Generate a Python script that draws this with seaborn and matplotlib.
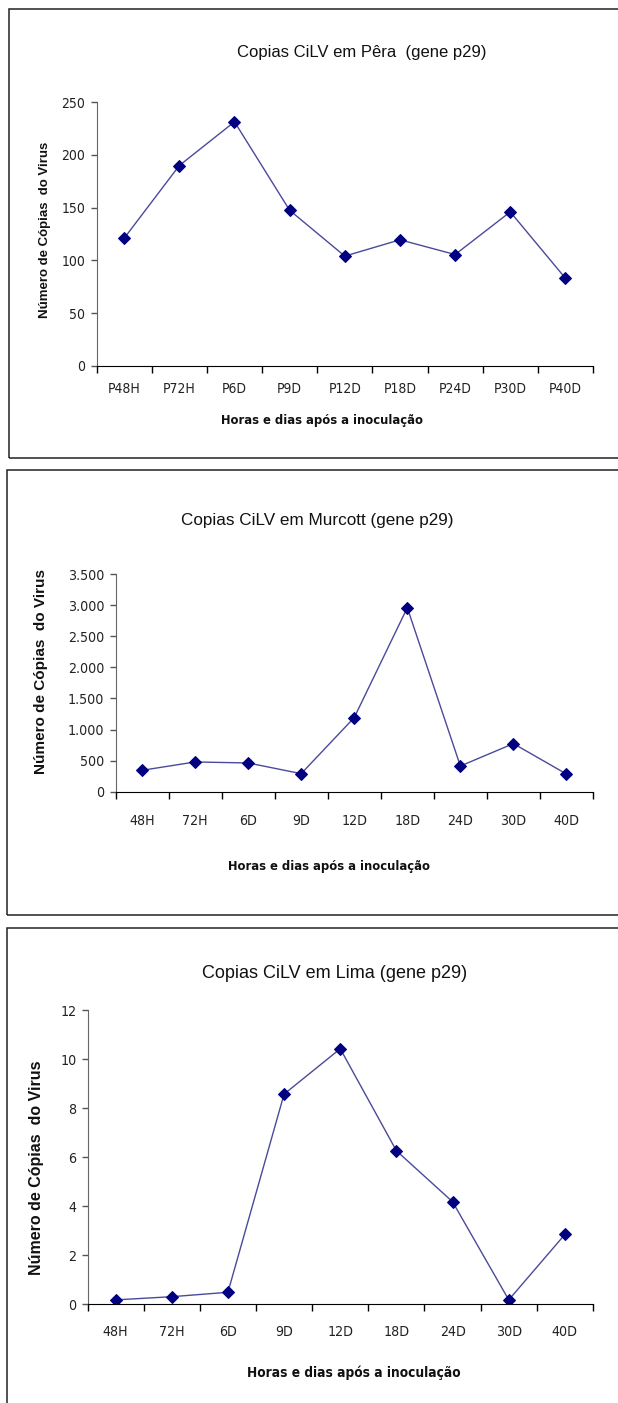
import matplotlib
matplotlib.use("Agg")
import matplotlib.pyplot as plt
from matplotlib import font_manager
from matplotlib.patches import Rectangle
from matplotlib.ticker import FuncFormatter, MultipleLocator, FixedLocator
import seaborn as sns
import pandas as pd

# data
pera_labels = ["P48H", "P72H", "P6D", "P9D", "P12D", "P18D", "P24D", "P30D", "P40D"]
pera_values = [121, 190, 231.5, 147.5, 104, 119.5, 105.5, 146, 83]

murcott_labels = ["48H", "72H", "6D", "9D", "12D", "18D", "24D", "30D", "40D"]
murcott_values = [344, 478, 462, 290, 1192, 2958, 413, 773, 284]

lima_labels = ["48H", "72H", "6D", "9D", "12D", "18D", "24D", "30D", "40D"]
lima_values = [0.18, 0.31, 0.49, 8.57, 10.42, 6.26, 4.18, 0.18, 2.85]

titles = ["Copias CiLV em Pêra  (gene p29)",
          "Copias CiLV em Murcott (gene p29)",
          "Copias CiLV em Lima (gene p29)"]
ylabel_txt = "Número de Cópias  do Virus"
xlabel_txt = "Horas e dias após a inoculação"

sns.set_style("ticks")
plt.rcParams["font.family"] = ["Liberation Sans", "DejaVu Sans"]
FAM = ["Liberation Sans", "DejaVu Sans"]

# condensed face if one is installed
have_cond = any(f.stretch == "condensed" and f.name == "DejaVu Sans"
                for f in font_manager.fontManager.ttflist)

W, H = 618, 1403
fig = plt.figure(figsize=(W / 100, H / 100), dpi=100)
fig.patch.set_facecolor("white")


def fx(px):
    return px / W


def fy(py):
    return 1 - py / H


def cond_kw(size_cond, size_plain):
    if have_cond:
        return dict(family="DejaVu Sans", stretch="condensed", fontsize=size_cond)
    return dict(family=FAM, fontsize=size_plain)


# panel boxes (left, top, right, bottom) in pixels
boxes = [(9, 9.5, 640, 458), (6.5, 469.5, 640, 915), (6.5, 928, 640, 1420)]
for l, t, r, b in boxes:
    fig.patches.append(Rectangle((fx(l), fy(b)), fx(r - l), fy(t) - fy(b),
                                 transform=fig.transFigure, fill=False,
                                 edgecolor="#222222", lw=1.1, zorder=0))

# axes rectangles in pixels: left, right, top, bottom
panels = [
    dict(rect=(96.6, 593, 102.3, 365.7), labels=pera_labels, values=pera_values,
         ylim=250, step=50, tick_fs=(10, 9), xpad=12, title_fs=12,
         title_xy=(362, 53), ylab_xy=(45, 230), ylab_fs=9.5, xlab_xy=(322, 421), xlab_fs=(9.3, 9.2),
         fmt=lambda v, p: f"{v:.0f}"),
    dict(rect=(115.5, 593, 574, 791.7), labels=murcott_labels, values=murcott_values,
         ylim=3500, step=500, tick_fs=(10.2, 9.5), xpad=16, title_fs=12.3,
         title_xy=(317, 520), ylab_xy=(41, 672), ylab_fs=11, xlab_xy=(329, 867), xlab_fs=(9.3, 9.3),
         fmt=lambda v, p: f"{v:,.0f}".replace(",", ".")),
    dict(rect=(87.5, 593, 1010, 1304.3), labels=lima_labels, values=lima_values,
         ylim=12, step=2, tick_fs=(10.2, 9.5), xpad=15, title_fs=13,
         title_xy=(335, 973), ylab_xy=(37, 1168), ylab_fs=11.5, xlab_xy=(354, 1373), xlab_fs=(9.8, 9.8),
         fmt=lambda v, p: f"{v:.0f}"),
]

for i, p in enumerate(panels):
    l, r, t, b = p["rect"]
    ax = fig.add_axes([fx(l), fy(b), fx(r - l), fy(t) - fy(b)])
    df = pd.DataFrame({"label": p["labels"], "value": p["values"]})
    sns.lineplot(data=df, x="label", y="value", sort=False, ax=ax,
                 color="#4a4a9a", lw=1.0, marker="D", markersize=6,
                 markerfacecolor="#000080", markeredgecolor="#000080")
    n = len(p["labels"])
    ax.set_xlim(-0.5, n - 0.5)
    ax.set_ylim(0, p["ylim"])
    ax.yaxis.set_major_locator(MultipleLocator(p["step"]))
    ax.yaxis.set_major_formatter(FuncFormatter(p["fmt"]))
    ax.xaxis.set_major_locator(FixedLocator(range(n)))
    ax.set_xticklabels(p["labels"])
    ax.xaxis.set_minor_locator(FixedLocator([k - 0.5 for k in range(n + 1)]))
    ax.tick_params(axis="x", which="major", length=0, pad=p["xpad"])
    ax.tick_params(axis="x", which="minor", length=5, width=1, color="black", direction="out")
    ax.tick_params(axis="y", length=4, width=1, color="#555555", direction="out", pad=4)
    kw = cond_kw(*p["tick_fs"])
    for lab in ax.get_xticklabels() + ax.get_yticklabels():
        lab.set_fontfamily(kw["family"])
        lab.set_fontsize(kw["fontsize"])
        if have_cond:
            lab.set_fontstretch("condensed")
        lab.set_color("#222222")
    sns.despine(ax=ax)
    ax.spines["left"].set_color("#666666")
    ax.spines["bottom"].set_color("black")
    ax.set_xlabel("")
    ax.set_ylabel("")
    ax.set_facecolor("white")

    tx, ty = p["title_xy"]
    fig.text(fx(tx), fy(ty), titles[i], ha="center", va="center",
             fontsize=p["title_fs"], family=FAM, color="#111111")
    yx, yy = p["ylab_xy"]
    fig.text(fx(yx), fy(yy), ylabel_txt, ha="center", va="center", rotation=90,
             fontsize=p["ylab_fs"], fontweight="bold", color="#111111")
    xx, xy = p["xlab_xy"]
    fig.text(fx(xx), fy(xy), xlabel_txt, ha="center", va="center",
             fontweight="bold", color="#111111", **cond_kw(*p["xlab_fs"]))

fig.savefig("out.png", dpi=100, facecolor="white")
